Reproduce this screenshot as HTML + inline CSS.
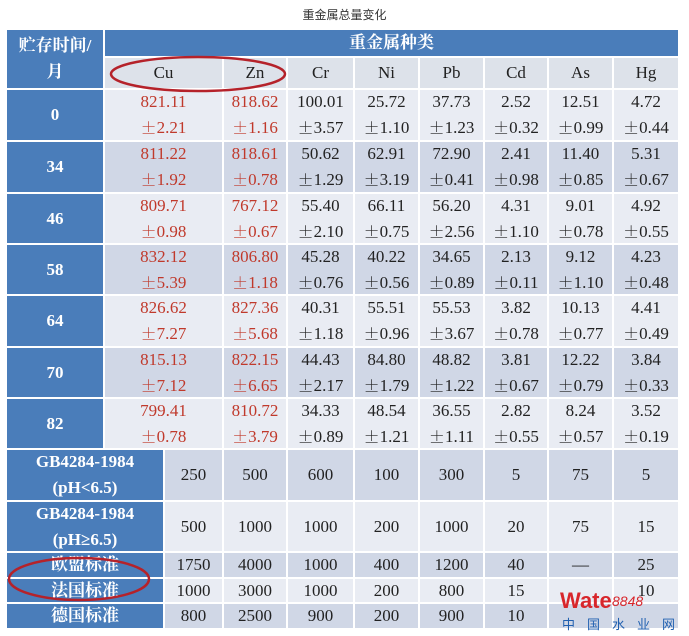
<!DOCTYPE html>
<html><head><meta charset="utf-8"><style>
body{margin:0;width:689px;height:636px;background:#fff;position:relative;overflow:hidden;font-family:"Liberation Serif","Noto Serif CJK SC",serif}
.c{position:absolute;display:flex;align-items:center;justify-content:center;text-align:center;box-sizing:border-box;border-right:2px solid #fff;border-bottom:2px solid #fff;font-size:17px;line-height:26px;color:#222;white-space:nowrap}
.b{background:#4a7dba;color:#fff;font-weight:bold}
.l{background:#e9ecf3}.d{background:#d0d7e6}.h{background:#dde2ea}
.r{color:#c0392b}
.pm{font-family:"Noto Serif CJK SC",serif;font-size:16px;display:inline-block;height:26px;line-height:26px;vertical-align:top;overflow:hidden}
.t{position:absolute;top:6px;width:689px;text-align:center;font-family:"Liberation Sans","Noto Sans CJK SC",sans-serif;font-size:12px;color:#333}
</style></head><body>
<div class="t">重金属总量变化</div>
<div id="g"></div>
<svg width="689" height="636" style="position:absolute;left:0;top:0">
<ellipse cx="198" cy="74" rx="87" ry="17" fill="none" stroke="#b5222a" stroke-width="2.5"/>
<ellipse cx="79" cy="579" rx="70" ry="21" fill="none" stroke="#b5222a" stroke-width="2.5"/>
<text x="560" y="608" font-family="Liberation Sans" font-weight="bold" font-size="22" fill="#d8262b">Wate</text>
<text x="612" y="606" font-family="Liberation Sans" font-style="italic" font-size="14" fill="#d8262b">8848</text>
<text x="562" y="629" font-family="Noto Sans CJK SC" font-size="13" fill="#1f5fb0" letter-spacing="12">中国水业网</text>
</svg>
<script>
var g=document.getElementById('g'),h='';
function c(x,y,w,hh,cls,html){h+='<div class="c '+cls+'" style="left:'+x+'px;top:'+y+'px;width:'+w+'px;height:'+hh+'px"><div>'+html+'</div></div>';}
var X=[105,224,288,355,420,485,549,614,680];
c(7,30,98,60,'b','贮存时间/<br>月');
c(105,30,575,28,'b','重金属种类');
var names=['Cu','Zn','Cr','Ni','Pb','Cd','As','Hg'];
for(var i=0;i<8;i++)c(X[i],58,X[i+1]-X[i],32,'h',names[i]);
var rows=[['0',[['821.11','2.21'],['818.62','1.16'],['100.01','3.57'],['25.72','1.10'],['37.73','1.23'],['2.52','0.32'],['12.51','0.99'],['4.72','0.44']]],
['34',[['811.22','1.92'],['818.61','0.78'],['50.62','1.29'],['62.91','3.19'],['72.90','0.41'],['2.41','0.98'],['11.40','0.85'],['5.31','0.67']]],
['46',[['809.71','0.98'],['767.12','0.67'],['55.40','2.10'],['66.11','0.75'],['56.20','2.56'],['4.31','1.10'],['9.01','0.78'],['4.92','0.55']]],
['58',[['832.12','5.39'],['806.80','1.18'],['45.28','0.76'],['40.22','0.56'],['34.65','0.89'],['2.13','0.11'],['9.12','1.10'],['4.23','0.48']]],
['64',[['826.62','7.27'],['827.36','5.68'],['40.31','1.18'],['55.51','0.96'],['55.53','3.67'],['3.82','0.78'],['10.13','0.77'],['4.41','0.49']]],
['70',[['815.13','7.12'],['822.15','6.65'],['44.43','2.17'],['84.80','1.79'],['48.82','1.22'],['3.81','0.67'],['12.22','0.79'],['3.84','0.33']]],
['82',[['799.41','0.78'],['810.72','3.79'],['34.33','0.89'],['48.54','1.21'],['36.55','1.11'],['2.82','0.55'],['8.24','0.57'],['3.52','0.19']]]];
var ys=[90,142,194,245,296,348,399,450];
for(var r=0;r<7;r++){var y=ys[r],hh=ys[r+1]-y,cl=r%2?'d':'l';
c(7,y,98,hh,'b',rows[r][0]);
for(var i=0;i<8;i++){var v=rows[r][1][i];c(X[i],y,X[i+1]-X[i],hh,cl+(i<2?' r':''),v[0]+'<br><span class="pm">±</span>'+v[1]);}}
var X2=[165,224,288,355,420,485,549,614,680];
var low=[['GB4284-1984<br>(pH&lt;6.5)',450,52,['250','500','600','100','300','5','75','5']],
['GB4284-1984<br>(pH≥6.5)',502,51,['500','1000','1000','200','1000','20','75','15']],
['欧盟标准',553,26,['1750','4000','1000','400','1200','40','—','25']],
['法国标准',579,25,['1000','3000','1000','200','800','15','','10']],
['德国标准',604,26,['800','2500','900','200','900','10','','']]];
for(var r=0;r<5;r++){var L=low[r],cl=r%2?'l':'d';
c(7,L[1],158,L[2],'b',L[0]);
for(var i=0;i<8;i++)c(X2[i],L[1],X2[i+1]-X2[i],L[2],cl,L[3][i]);}
g.innerHTML=h;
</script>
</body></html>
